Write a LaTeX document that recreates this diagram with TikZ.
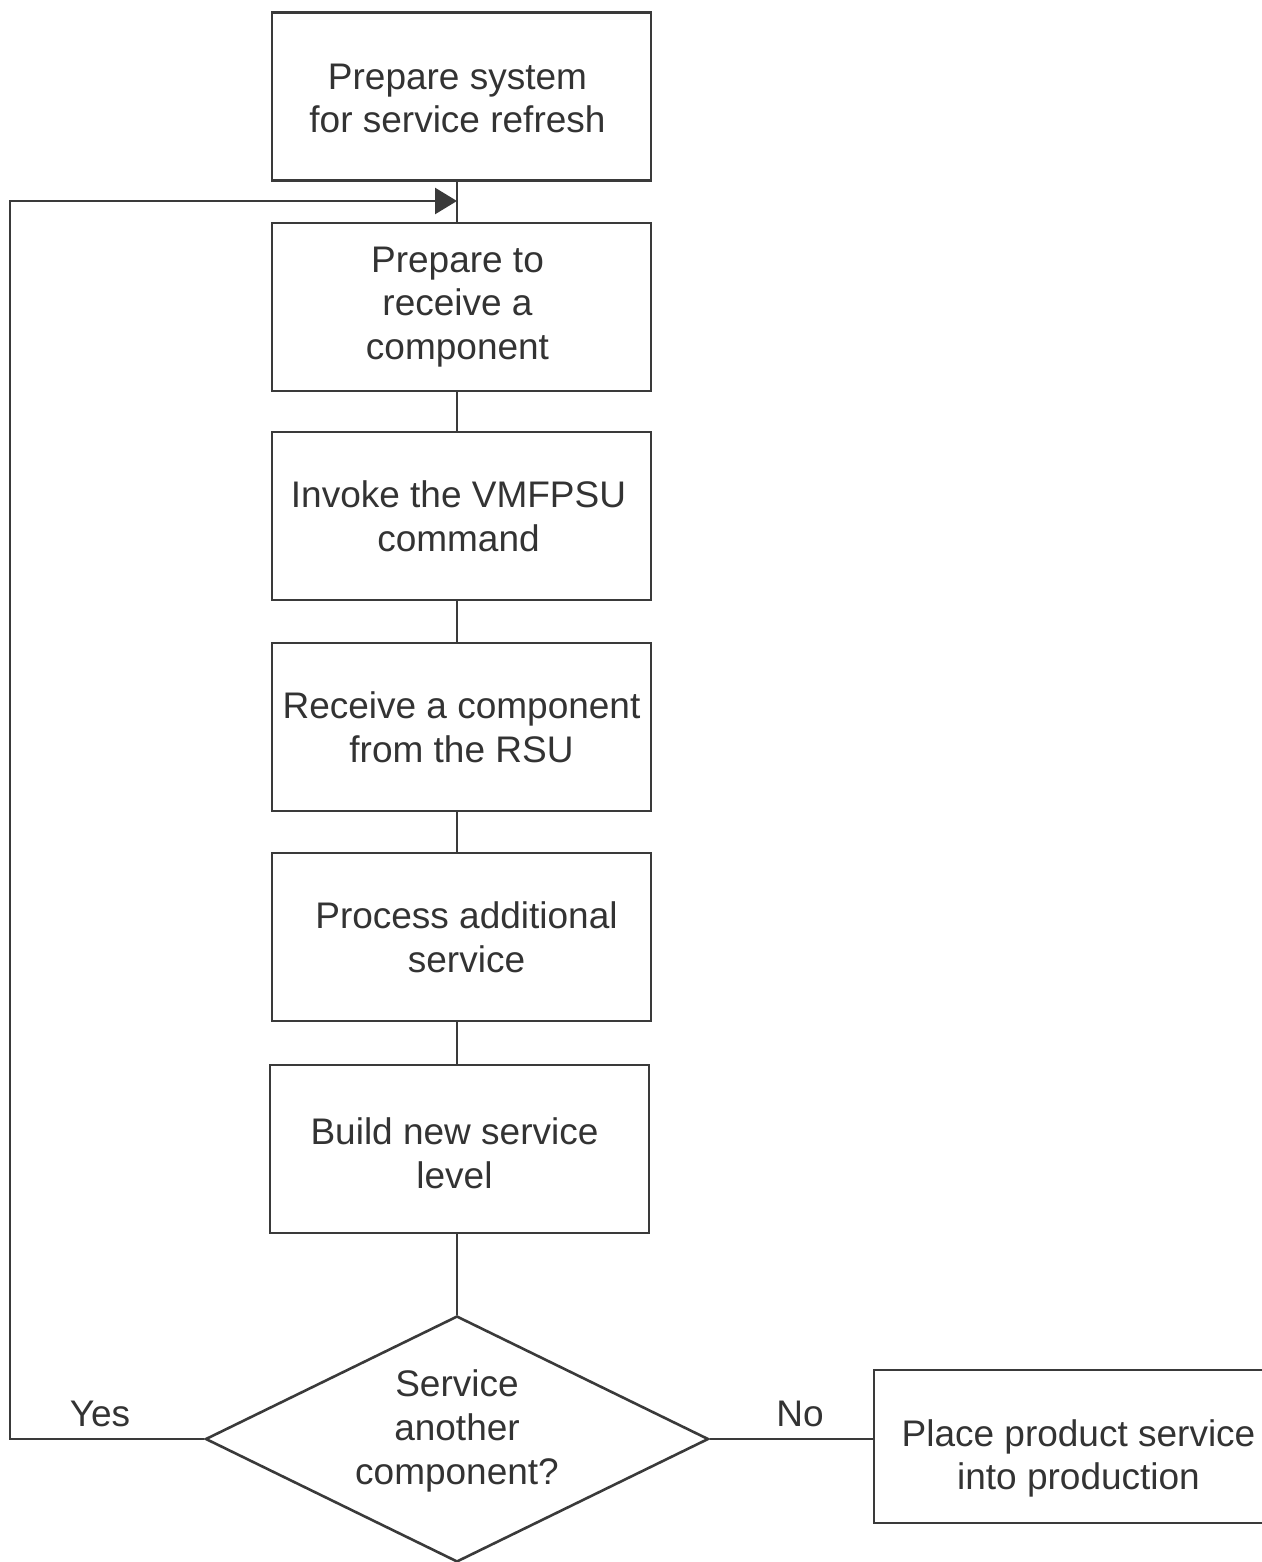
\documentclass[tikz,border=0pt]{standalone}
\usepackage{fontspec}
\setmainfont{Liberation Sans}
\usetikzlibrary{shapes.geometric,arrows.meta}
\definecolor{linec}{HTML}{3A3A3A}
\definecolor{txtc}{HTML}{333333}
\begin{document}
\begin{tikzpicture}[x=0.5pt,y=-0.5pt,
  txt/.style={text=txtc, font=\fontsize{18.5}{21.8}\selectfont, align=center, inner sep=0pt},
  box/.style={txt, draw=linec, line width=1.3pt, rectangle, minimum width=189.5pt, minimum height=84pt},
  conn/.style={draw=linec, line width=1.3pt},
  arr/.style={conn, -{Triangle[length=11pt,width=13pt]}}]
\useasboundingbox (0,0) rectangle (1262,1562);
\node[box, label={[txt,xshift=-2pt,yshift=-1pt]center:Prepare system\\for service refresh}] (b1) at (461.5,96.5) {};
\node[box, label={[txt,xshift=-2pt]center:Prepare to\\receive a\\component}] (b2) at (461.5,307) {};
\node[box, label={[txt,xshift=-1.5pt]center:Invoke the VMFPSU\\command}] (b3) at (461.5,516) {};
\node[box] (b4) at (461.5,727) {Receive a component\\from the RSU};
\node[box, label={[txt,xshift=2.5pt]center:Process additional\\service}] (b5) at (461.5,937) {};
\node[box, label={[txt,xshift=-2.5pt,yshift=-2pt]center:Build new service\\level}] (b6) at (459.5,1149) {};
\node[draw=linec, line width=1.3pt, diamond, minimum width=251.5pt, minimum height=123pt, inner sep=0pt] (d) at (457,1439) {};
\node[txt] (dq) at (457,1431) {Service\\another\\component?};
\node[box, minimum width=204.5pt, minimum height=76.5pt, label={[txt,yshift=-6pt]center:Place product service\\into production}] (b7) at (1078.5,1446.5) {};
\coordinate (sp) at (457,0);
\coordinate (ah) at (457,201);
\coordinate (lx) at (10,201);
\draw[conn] (b1.south -| sp) -- (b2.north -| sp);
\draw[conn] (b2.south -| sp) -- (b3.north -| sp);
\draw[conn] (b3.south -| sp) -- (b4.north -| sp);
\draw[conn] (b4.south -| sp) -- (b5.north -| sp);
\draw[conn] (b5.south -| sp) -- (b6.north -| sp);
\draw[conn] (b6.south -| d.north) -- (d.north);
\draw[arr] (d.west) -| (lx) -- (ah);
\draw[conn] (d.east) -- (b7.west |- d.east);
\node[txt] (yes) at (100,1414) {Yes};
\node[txt] (no) at (800,1414) {No};
\end{tikzpicture}
\end{document}
